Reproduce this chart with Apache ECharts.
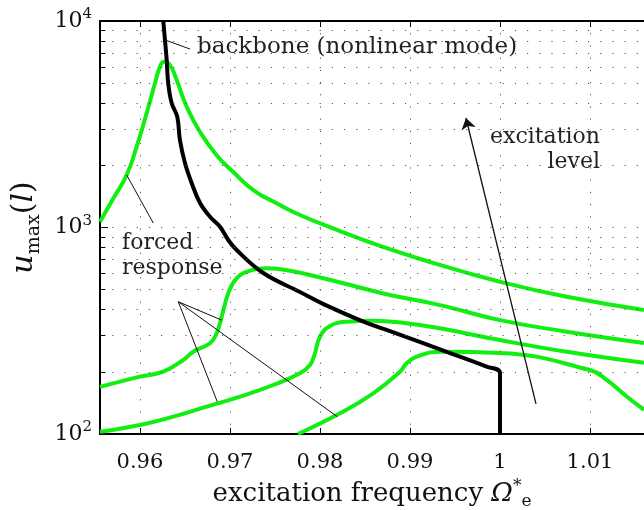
<!DOCTYPE html>
<html>
<head>
<meta charset="utf-8">
<script src="https://cdn.jsdelivr.net/npm/echarts@6/dist/echarts.min.js"></script>
<style>html,body{margin:0;padding:0;background:#fff;}#c{width:644px;height:510px;}</style>
</head>
<body>
<div id="c"></div>
<script>
// ---- axis ranges / ticks ----
const X_MIN = 0.95556, X_MAX = 1.016;
const X_TICKS = [0.96, 0.97, 0.98, 0.99, 1.0, 1.01];
const Y_MIN = 100, Y_MAX = 10000;
const Y_MINOR = [200,300,400,500,600,700,800,900,2000,3000,4000,5000,6000,7000,8000,9000];

// ---- backbone (nonlinear mode) ----
const bbF = [0.96259,0.96278,0.96297,0.96314,0.96352,0.96414,0.96444,0.965,0.96574,0.96667,0.96778,0.96889,0.96981,0.97074,0.9737,0.97778,0.98033,0.98519,0.98778,0.99408,0.99852,1.0,1.0];
const bbU = [10000,8091,6474,4993,4007,3441,2653,2053,1643,1314,1128,1009,870,778,602,487,427,345,315,250,212,197,100];

// ---- forced responses (4 excitation levels) ----
const g1F = [0.95556,0.95703,0.95852,0.95963,0.96074,0.96167,0.96222,0.96267,0.96333,0.96408,0.96519,0.96667,0.96852,0.97037,0.97259,0.97519,0.97778,0.98222,0.987,0.99256,1.0,1.00741,1.016];
const g1U = [1067,1380,1796,2462,3573,4993,6006,6352,6121,5179,3846,2901,2240,1857,1519,1310,1150,961,805,674,546,462,399];
const g2F = [0.95556,0.96,0.96259,0.96481,0.96592,0.96778,0.96852,0.96908,0.96981,0.97074,0.97222,0.97408,0.97667,0.98037,0.98408,0.98778,0.99333,1.0,1.00741,1.016];
const g2U = [169,189.5,200.3,228.3,250.3,275,307.4,370,480,567.5,618,634.5,618,567.5,516.8,471,421,356,313,276];
const g3F = [0.95556,0.96,0.9637,0.96741,0.97111,0.97481,0.97778,0.97889,0.97944,0.98,0.98111,0.98297,0.98592,0.98963,0.99333,1.0,1.00741,1.016];
const g3U = [102.6,110.6,121.3,135.6,151.6,172.7,196.8,215.9,245.9,296,333.4,349.9,353.9,343.6,325,285,250,221];
const g4F = [0.97756,0.98222,0.98592,0.98889,0.98963,0.99074,0.99333,1.0,1.01,1.01185,1.01408,1.016];
const g4U = [100,126,157.4,200.3,220,236.7,250.3,247,204,183,152,131];

// ---- annotation leader lines (data coords) ----
const leaderBackbone = [[0.96278,8091],[0.96556,7318]];
const leaderForcedTop = [[0.95852,1796],[0.96148,1051]];
const leaderApex = [0.96426,437];
const leaderTargets = [[0.96859,143.3],[0.96908,356],[0.98192,121.3]];
const arrowLevel = [[1.0040,139.8],[0.99622,3391]];

const FONT = 'DejaVu Serif';
const GREEN = '#11ee11';
const DOT = [1.2, 11];
const zip = (a,b) => a.map((v,i) => [v, b[i]]);

const chart = echarts.init(document.getElementById('c'), null, {renderer:'canvas'});

const gridMarks = Y_MINOR.map(v => ({yAxis: v}));
const minorTicks = Y_MINOR.map(v => [{coord:[X_MIN, v]}, {coord:[X_MIN + 0.0006, v]}]);
const annLines = [
  [{coord: leaderBackbone[0]}, {coord: leaderBackbone[1]}],
  [{coord: leaderForcedTop[0]}, {coord: leaderForcedTop[1]}],
  ...leaderTargets.map(t => [{coord: leaderApex}, {coord: t}])
];

function curve(name, F, U, color, z, sm) {
  return {type: 'line', name: name, data: zip(F, U), showSymbol: false, smooth: sm,
    lineStyle: {color: color, width: 4}, z: z};
}

const option = {
  animation: false,
  backgroundColor: '#fff',
  grid: {left: 100, top: 21, right: 0, bottom: 76, outerBoundsMode: 'none', show: false},
  xAxis: [{
    type: 'value', min: X_MIN, max: X_MAX, position: 'bottom',
    axisLine: {show: true, onZero: false, lineStyle: {color: '#000', width: 2}},
    axisTick: {show: true, inside: true, length: 6, customValues: X_TICKS, lineStyle: {color: '#000', width: 1}},
    axisLabel: {customValues: X_TICKS, margin: 18, fontFamily: FONT, fontSize: 21, color: '#111',
      formatter: v => (Math.abs(v - 1) < 1e-9 ? '1' : String(+v.toFixed(2)))},
    splitLine: {show: true, lineStyle: {color: '#555', width: 1, type: DOT}},
    name: '{t|excitation frequency }{o|Ω}{sup|*}{sub|e}',
    nameLocation: 'middle', nameGap: 40,
    nameTextStyle: {rich: {
      t: {fontFamily: FONT, fontSize: 26, color: '#111', lineHeight: 32},
      o: {fontFamily: FONT, fontSize: 26, fontStyle: 'italic', color: '#111', lineHeight: 32},
      sup: {fontFamily: FONT, fontSize: 17, color: '#111', lineHeight: 17, verticalAlign: 'top'},
      sub: {fontFamily: FONT, fontSize: 17, color: '#111', lineHeight: 17, verticalAlign: 'bottom'}
    }}
  }, {
    type: 'value', min: X_MIN, max: X_MAX, position: 'top',
    axisLine: {show: true, onZero: false, lineStyle: {color: '#000', width: 2}},
    axisTick: {show: true, inside: true, length: 6, customValues: X_TICKS, lineStyle: {color: '#000', width: 1}},
    axisLabel: {show: false}, splitLine: {show: false}
  }],
  yAxis: [{
    type: 'log', logBase: 10, min: Y_MIN, max: Y_MAX, position: 'left',
    axisLine: {show: true, onZero: false, lineStyle: {color: '#000', width: 2}},
    axisTick: {show: true, inside: true, length: 8, lineStyle: {color: '#000', width: 1}},
    axisLabel: {margin: 8, color: '#111',
      formatter: v => '{b|10}{s|' + Math.round(Math.log10(v)) + '}',
      rich: {
        b: {fontFamily: FONT, fontSize: 22, lineHeight: 28, color: '#111'},
        s: {fontFamily: FONT, fontSize: 15, lineHeight: 15, verticalAlign: 'top', color: '#111'}
      }},
    splitLine: {show: true, lineStyle: {color: '#555', width: 1, type: DOT}},
    name: '{u|u}{s|max}{p|(}{l|l}{p|)}',
    nameLocation: 'middle', nameRotate: 90, nameGap: 55,
    nameTextStyle: {rich: {
      u: {fontFamily: FONT, fontSize: 30, fontStyle: 'italic', color: '#111', lineHeight: 38},
      s: {fontFamily: FONT, fontSize: 19, color: '#111', lineHeight: 19, verticalAlign: 'bottom'},
      p: {fontFamily: FONT, fontSize: 30, color: '#111', lineHeight: 38},
      l: {fontFamily: FONT, fontSize: 30, fontStyle: 'italic', color: '#111', lineHeight: 38}
    }}
  }],
  series: [
    {type: 'line', name: 'grid', data: [], silent: true,
      markLine: {silent: true, symbol: ['none','none'], label: {show: false},
        lineStyle: {color: '#555', width: 1, type: DOT}, data: gridMarks}},
    {type: 'line', name: 'minorTicks', data: [], silent: true,
      markLine: {silent: true, symbol: ['none','none'], label: {show: false},
        lineStyle: {color: '#000', width: 1, type: 'solid'}, data: minorTicks}},
    curve('g1', g1F, g1U, GREEN, 3, 0.5),
    curve('g2', g2F, g2U, GREEN, 3, 0.45),
    curve('g3', g3F, g3U, GREEN, 3, 0.45),
    curve('g4', g4F, g4U, GREEN, 3, 0.45),
    curve('backbone', bbF, bbU, '#000', 4, 0.4),
    {type: 'line', name: 'annotations', data: [], silent: true, z: 5,
      markLine: {silent: true, symbol: ['none','none'], label: {show: false}, z: 5,
        lineStyle: {color: '#111', width: 1, type: 'solid'}, data: annLines}},
    {type: 'line', name: 'arrow', data: [], silent: true, z: 5,
      markLine: {silent: true, symbol: ['none','arrow'], symbolSize: 11, label: {show: false}, z: 5,
        lineStyle: {color: '#111', width: 1.3, type: 'solid'},
        data: [[{coord: arrowLevel[0]}, {coord: arrowLevel[1]}]]}}
  ],
  graphic: [
    {type: 'text', left: 197, top: 36, z: 10, style: {text: 'backbone (nonlinear mode)', font: '23px "DejaVu Serif"', fill: '#222'}},
    {type: 'text', right: 44, top: 126, z: 10, style: {text: 'excitation', font: '22px "DejaVu Serif"', fill: '#222', textAlign: 'right'}},
    {type: 'text', right: 44, top: 151, z: 10, style: {text: 'level', font: '22px "DejaVu Serif"', fill: '#222', textAlign: 'right'}},
    {type: 'text', left: 122, top: 232, z: 10, style: {text: 'forced', font: '22px "DejaVu Serif"', fill: '#222'}},
    {type: 'text', left: 122, top: 257, z: 10, style: {text: 'response', font: '22px "DejaVu Serif"', fill: '#222'}}
  ]
};
chart.setOption(option);
</script>
</body>
</html>
